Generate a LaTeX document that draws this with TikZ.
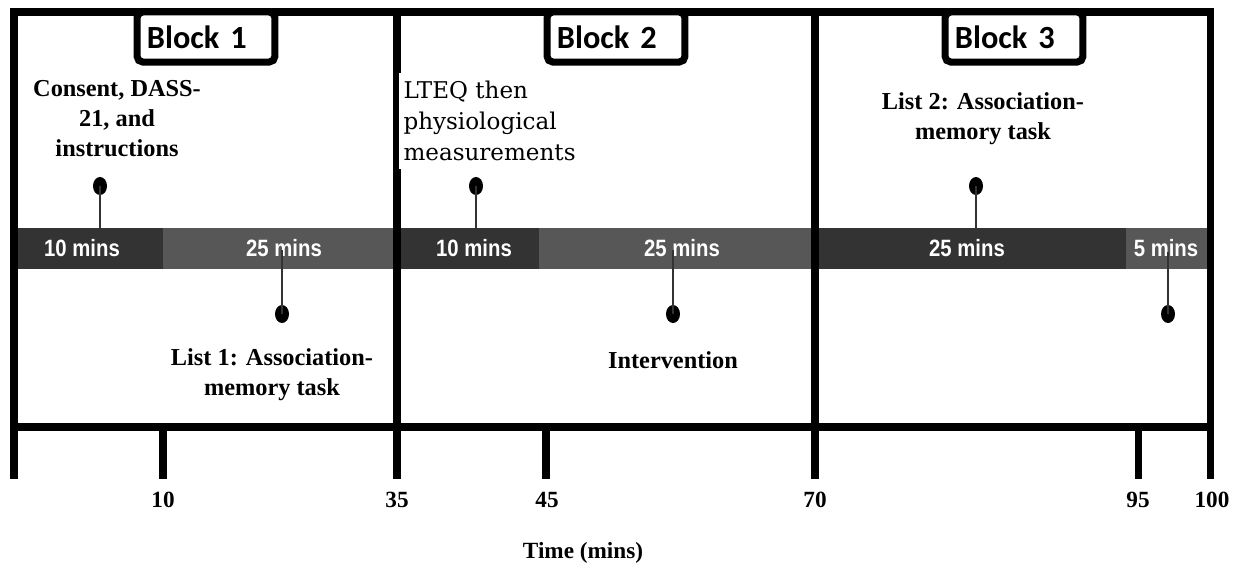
\documentclass[tikz,border=0pt]{standalone}
\usepackage{fontspec}
\setmainfont{Liberation Serif}
\newfontfamily\blockfont{Carlito}
\newfontfamily\barfont[FakeStretch=0.86]{Liberation Sans}
\newfontfamily\slabfont{DejaVu Serif}
\usetikzlibrary{shapes.geometric}
\definecolor{segdark}{HTML}{333333}
\definecolor{seglight}{HTML}{575757}

\begin{document}
\begin{tikzpicture}[x=0.025cm, y=-0.025cm,
  frame/.style={line width=5pt, line cap=rect},
  blockbox/.style={draw, line width=5pt, rounded corners=4pt, fill=white,
    text width=84pt, inner xsep=7pt, minimum height=35.6pt, align=left,
    font=\blockfont\bfseries\fontsize{23}{23}\selectfont},
  bartext/.style={text=white, font=\barfont\bfseries\fontsize{16.8}{17}\selectfont},
  note/.style={align=center, font=\bfseries\fontsize{17.3}{21.3}\selectfont},
  numlabel/.style={font=\bfseries\fontsize{16.5}{17}\selectfont},
  pinhead/.style={ellipse, fill=black, minimum width=0.35cm, minimum height=0.45cm, inner sep=0pt},
  stem/.style={draw=segdark, line width=1.1pt}]
\useasboundingbox (0,0) rectangle (1241,567);

\coordinate (T0) at (14,427);
\coordinate (T10) at (163,427);
\coordinate (T35) at (397,427);
\coordinate (T45) at (546,427);
\coordinate (T70) at (815,427);
\coordinate (T95) at (1138,427);
\coordinate (T100) at (1210,427);

% timeline bar
\fill[segdark]  (14,228)   rectangle (163,269);
\fill[seglight] (163,228)  rectangle (397,269);
\fill[segdark]  (397,228)  rectangle (539,269);
\fill[seglight] (539,228)  rectangle (815,269);
\fill[segdark]  (815,228)  rectangle (1126,269);
\fill[seglight] (1126,228) rectangle (1210,269);

\node[bartext] (s1) at (82,248)   {10 mins};
\node[bartext] (s2) at (284,248)  {25 mins};
\node[bartext] (s3) at (474,248)  {10 mins};
\node[bartext] (s4) at (682,248)  {25 mins};
\node[bartext] (s5) at (967,248)  {25 mins};
\node[bartext] (s6) at (1166,248) {5 mins};

% frame and axis
\draw[frame] (14,12) -- (1210,12);
\draw[frame] (T0) -- (T100);
\foreach \x in {14,397,815,1210}
  \draw[frame] (\x,12) -- (\x,475);
\foreach \x in {163,546,1138}
  \draw[frame] (\x,427) -- (\x,475);

\foreach \t/\x in {10/163,35/397,45/547,70/815,95/1138,100/1212}
  \node[numlabel] (n\t) at (\x,500) {\t};
\node[numlabel] (time) at (583,553) {Time (mins)};

% blocks
\node[blockbox] (b1) at (206,37)  {Block 1};
\node[blockbox] (b2) at (616,37)  {Block 2};
\node[blockbox] (b3) at (1014,37) {Block 3};

% pins
\node[pinhead] (p1) at (100,186)  {};
\node[pinhead] (p2) at (282,314)  {};
\node[pinhead] (p3) at (476,186)  {};
\node[pinhead] (p4) at (673,314)  {};
\node[pinhead] (p5) at (976,186)  {};
\node[pinhead] (p6) at (1168,314) {};
\coordinate (e1) at (100,228);
\coordinate (e2) at (282,250);
\coordinate (e3) at (476,240);
\coordinate (e4) at (673,250);
\coordinate (e5) at (976,228);
\coordinate (e6) at (1168,252);
\foreach \i in {1,...,6}
  \draw[stem] (p\i.center) -- (e\i);

% events
\node[note] (consent) at (117,119) {Consent, DASS-\\21, and\\instructions};
\node[anchor=west, align=left, fill=white, inner xsep=3pt, inner ysep=6pt,
  font=\slabfont\fontsize{16.4}{21.8}\selectfont] (lteq) at (399,121)
  {LTEQ then\\physiological\\measurements};
\node[note] (list1) at (272,375) {List 1: Association-\\memory task};
\node[note] (interv) at (673,360) {Intervention};
\node[note] (list2) at (983,119) {List 2: Association-\\memory task};
\end{tikzpicture}
\end{document}
